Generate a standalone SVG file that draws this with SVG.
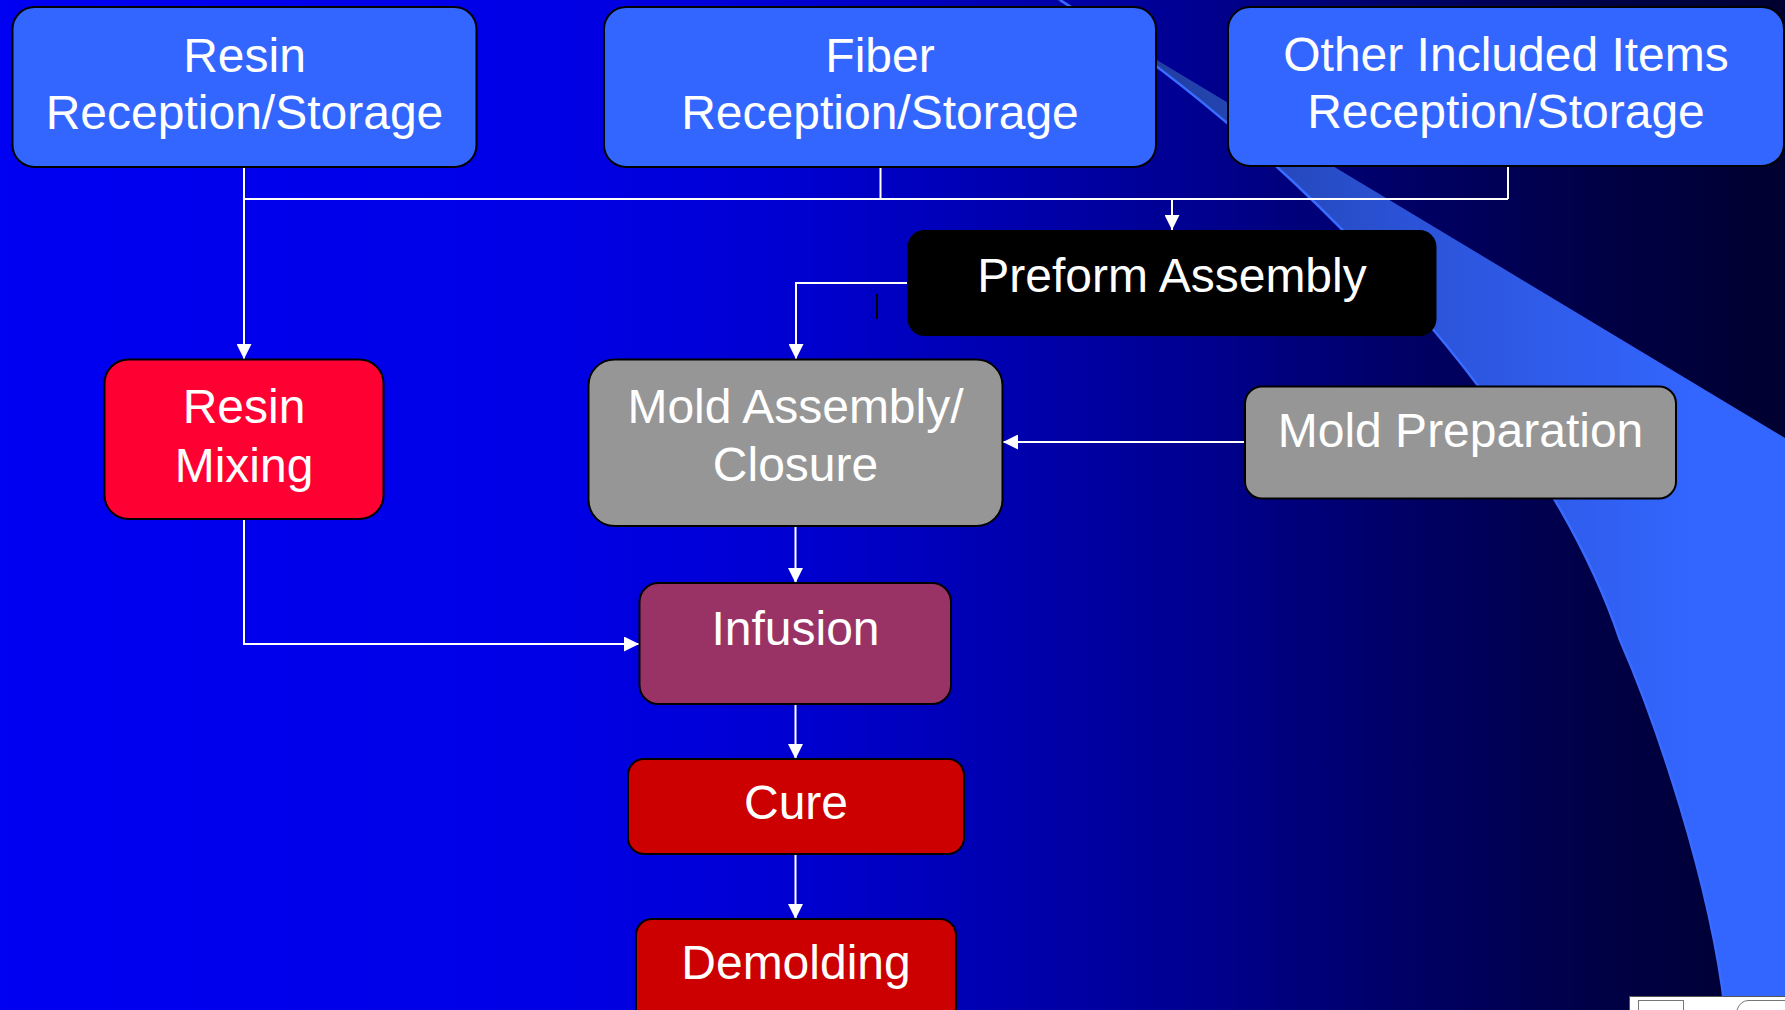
<svg xmlns="http://www.w3.org/2000/svg" width="1785" height="1010" viewBox="0 0 1785 1010">
  <defs>
    <linearGradient id="bg" x1="0" y1="0" x2="1785" y2="0" gradientUnits="userSpaceOnUse">
      <stop offset="0" stop-color="#0000F2"/>
      <stop offset="0.31" stop-color="#0000E6"/>
      <stop offset="0.45" stop-color="#0000D0"/>
      <stop offset="0.56" stop-color="#0000B0"/>
      <stop offset="0.67" stop-color="#000090"/>
      <stop offset="0.78" stop-color="#000068"/>
      <stop offset="0.9" stop-color="#000045"/>
      <stop offset="1" stop-color="#000030"/>
    </linearGradient>
    <linearGradient id="swoosh" x1="1100" y1="0" x2="1700" y2="0" gradientUnits="userSpaceOnUse">
      <stop offset="0" stop-color="#1E3A96"/>
      <stop offset="0.5" stop-color="#2B52D6"/>
      <stop offset="1" stop-color="#3366FF"/>
    </linearGradient>
    <marker id="arrow" markerWidth="15" markerHeight="15" refX="15" refY="7.5" orient="auto" markerUnits="userSpaceOnUse">
      <path d="M0,0 L15,7.5 L0,15 z" fill="#FFFFFF"/>
    </marker>
    <style>
      .node { stroke: #000000; stroke-width: 2; }
      .lbl { font-family: "Liberation Sans", Arial, sans-serif; font-size: 48px; fill: #FFFFFF; text-anchor: middle; }
      .conn { stroke: #FFFFFF; stroke-width: 2; fill: none; }
    </style>
  </defs>

  <!-- background -->
  <rect x="0" y="0" width="1785" height="1010" fill="url(#bg)"/>
  <path d="M1057,0 L1785,438 L1785,1010 L1725,1010 C1710,880 1655,720 1620,640 C1540,400 1270,130 1060,0 Z" fill="url(#swoosh)"/>
  <path d="M1060,0 C1270,130 1540,400 1620,640 C1655,720 1710,880 1725,1010" fill="none" stroke="#3A6BFF" stroke-width="2.5"/>

  <!-- connectors -->
  <g id="connectors">
    <path class="conn" d="M244,167 L244,359" marker-end="url(#arrow)"/>
    <path class="conn" d="M244,199 L1508,199"/>
    <path class="conn" d="M880.5,167 L880.5,199"/>
    <path class="conn" d="M1508,166 L1508,199"/>
    <path class="conn" d="M1172,199 L1172,230" marker-end="url(#arrow)"/>
    <path class="conn" d="M907,283 L796,283 L796,359" marker-end="url(#arrow)"/>
    <path class="conn" d="M1245,442 L1003,442" marker-end="url(#arrow)"/>
    <path class="conn" d="M795.5,526 L795.5,583" marker-end="url(#arrow)"/>
    <path class="conn" d="M244,519 L244,644 L639,644" marker-end="url(#arrow)"/>
    <path class="conn" d="M795.5,704 L795.5,759" marker-end="url(#arrow)"/>
    <path class="conn" d="M795.5,854 L795.5,919" marker-end="url(#arrow)"/>
    <line x1="877" y1="294" x2="877" y2="319" stroke="#000000" stroke-width="2"/>
  </g>

  <!-- nodes -->
  <g id="resin-storage">
    <rect class="node" x="12.5" y="7" width="464" height="160" rx="22" fill="#3366FF"/>
    <text class="lbl" x="244.5" y="71.5">Resin</text>
    <text class="lbl" x="244.5" y="129">Reception/Storage</text>
  </g>
  <g id="fiber-storage">
    <rect class="node" x="604" y="7" width="552" height="160" rx="22" fill="#3366FF"/>
    <text class="lbl" x="880" y="71.5">Fiber</text>
    <text class="lbl" x="880" y="129">Reception/Storage</text>
  </g>
  <g id="other-storage">
    <rect class="node" x="1228" y="7" width="556" height="159" rx="22" fill="#3366FF"/>
    <text class="lbl" x="1506" y="70.5">Other Included Items</text>
    <text class="lbl" x="1506" y="128">Reception/Storage</text>
  </g>
  <g id="preform-assembly">
    <rect x="907.5" y="230" width="529" height="106" rx="17" fill="#000000"/>
    <text class="lbl" x="1172" y="291.5">Preform Assembly</text>
  </g>
  <g id="resin-mixing">
    <rect class="node" x="104.5" y="359.5" width="279" height="159.5" rx="24" fill="#FF0033"/>
    <text class="lbl" x="244" y="423">Resin</text>
    <text class="lbl" x="244" y="481.5">Mixing</text>
  </g>
  <g id="mold-assembly">
    <rect class="node" x="588.5" y="359.5" width="414" height="166.5" rx="26" fill="#969696"/>
    <text class="lbl" x="795.5" y="422.5">Mold Assembly/</text>
    <text class="lbl" x="795.5" y="481">Closure</text>
  </g>
  <g id="mold-preparation">
    <rect class="node" x="1245" y="386.5" width="431" height="112" rx="17" fill="#969696"/>
    <text class="lbl" x="1460.5" y="447">Mold Preparation</text>
  </g>
  <g id="infusion">
    <rect class="node" x="639.5" y="583" width="311.5" height="121" rx="19" fill="#993366"/>
    <text class="lbl" x="795.5" y="645">Infusion</text>
  </g>
  <g id="cure">
    <rect class="node" x="628" y="759" width="336" height="95" rx="16" fill="#CC0000"/>
    <text class="lbl" x="796" y="819">Cure</text>
  </g>
  <g id="demolding">
    <rect class="node" x="636" y="919" width="320" height="105" rx="16" fill="#CC0000"/>
    <text class="lbl" x="796" y="979">Demolding</text>
  </g>

  <!-- slide show control -->
  <rect x="1629.5" y="996.5" width="170" height="20" fill="#FFFFFF" stroke="#555555" stroke-width="1"/>
  <rect x="1638.5" y="1000.5" width="45" height="15" fill="none" stroke="#777777" stroke-width="1"/>
  <path d="M1737,1010 Q1740,1001 1748,1000.5 L1785,1000.5" fill="none" stroke="#777777" stroke-width="1"/>
</svg>
